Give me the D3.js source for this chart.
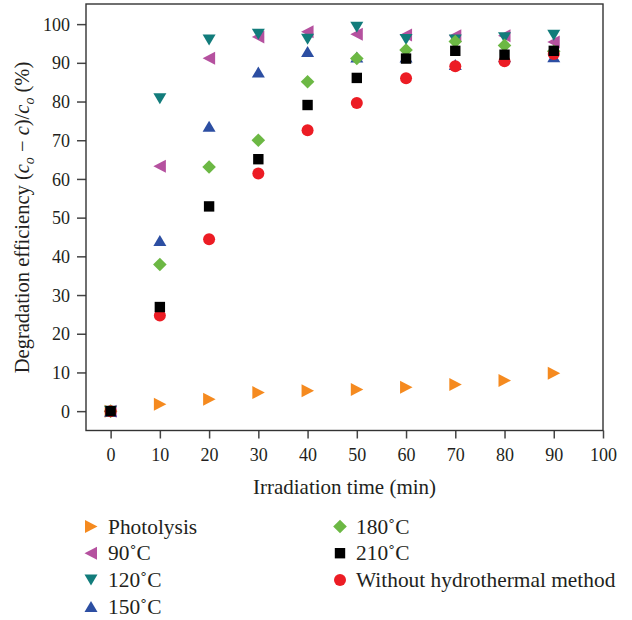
<!DOCTYPE html>
<html>
<head>
<meta charset="utf-8">
<script src="https://cdn.jsdelivr.net/npm/d3@7"></script>
<style>
  html, body { margin: 0; padding: 0; background: #fff; }
  svg { display: block; }
  text { font-family: "Liberation Serif", "Times New Roman", serif; fill: #231f20; }
</style>
</head>
<body>
<svg id="chart" width="632" height="620"></svg>
<script>
// ---- data ----
const times = [0, 10, 20, 30, 40, 50, 60, 70, 80, 90];
const photolysis = [0, 1.8, 3.1, 4.8, 5.3, 5.6, 6.2, 6.9, 7.9, 9.8];
const t90 = [0, 63.3, 91.2, 96.7, 98.0, 97.4, 97.2, 97.0, 97.0, 95.4];
const t120 = [0, 80.7, 95.9, 97.4, 96.1, 99.2, 96.0, 95.9, 96.5, 97.1];
const t150 = [0, 44.1, 73.6, 87.6, 92.9, 91.5, 91.5, 89.6, 91.6, 91.6];
const t180 = [0, 37.9, 63.1, 70.0, 85.1, 91.1, 93.3, 95.5, 94.5, 93.0];
const t210 = [0, 26.9, 52.9, 65.1, 79.1, 86.1, 91.1, 93.1, 92.1, 93.1];
const noHydro = [0, 24.7, 44.4, 61.4, 72.6, 79.6, 86.0, 89.1, 90.4, 92.3];

const xTicks = [0, 10, 20, 30, 40, 50, 60, 70, 80, 90, 100];
const yTicks = [0, 10, 20, 30, 40, 50, 60, 70, 80, 90, 100];

const seriesNames = ["Photolysis", "90˚C", "120˚C", "150˚C", "180˚C", "210˚C", "Without hydrothermal method"];
const seriesValues = [photolysis, t90, t120, t150, t180, t210, noHydro];
const seriesShapes = ["right", "left", "down", "up", "diamond", "square", "circle"];
const seriesColors = ["#f58a1f", "#b5519f", "#127c7b", "#2c4ea2", "#6cb844", "#000000", "#ec1c24"];
// drawing order (last on top)
const drawOrder = [0, 1, 2, 3, 4, 6, 5];

// ---- layout ----
const pLeft = 86, pRight = 603, pTop = 4, pBottom = 430.5;
const svg = d3.select("#chart");

const x = d3.scaleLinear().domain([-5, 100]).range([pLeft, pRight]);
const y = d3.scaleLinear().domain([-5, 105.2]).range([pBottom, pTop]);

function markerPath(shape) {
  const p = d3.path();
  switch (shape) {
    case "right": p.moveTo(-6, -6.5); p.lineTo(6.5, 0); p.lineTo(-6, 6.5); p.closePath(); break;
    case "left": p.moveTo(6, -6.5); p.lineTo(-6.5, 0); p.lineTo(6, 6.5); p.closePath(); break;
    case "down": p.moveTo(-6.5, -5.5); p.lineTo(6.5, -5.5); p.lineTo(0, 5.5); p.closePath(); break;
    case "up": p.moveTo(-6.5, 5.5); p.lineTo(6.5, 5.5); p.lineTo(0, -5.5); p.closePath(); break;
    case "diamond": p.moveTo(0, -6.8); p.lineTo(6.8, 0); p.lineTo(0, 6.8); p.lineTo(-6.8, 0); p.closePath(); break;
    case "square": p.rect(-5.2, -5.2, 10.4, 10.4); break;
    case "circle": p.arc(0, 0, 6, 0, 2 * Math.PI); p.closePath(); break;
  }
  return p.toString();
}

// ---- axes ----
const xAxis = svg.append("g")
  .attr("transform", `translate(0,${pBottom})`)
  .call(d3.axisBottom(x).tickValues(xTicks).tickSize(8).tickFormat(d3.format("d")));
xAxis.select(".domain").remove();
xAxis.selectAll(".tick line").attr("stroke", "#444").attr("stroke-width", 1.5);
xAxis.selectAll(".tick text").attr("y", 30).attr("dy", 0)
  .style("font-size", "18px").style("font-family", "Liberation Serif, serif").attr("fill", "#231f20");

const yAxis = svg.append("g")
  .attr("transform", `translate(${pLeft},0)`)
  .call(d3.axisLeft(y).tickValues(yTicks).tickSize(9).tickPadding(7).tickFormat(d3.format("d")));
yAxis.select(".domain").remove();
yAxis.selectAll(".tick line").attr("stroke", "#444").attr("stroke-width", 1.5);
yAxis.selectAll(".tick text").attr("dy", "0.34em")
  .style("font-size", "18px").style("font-family", "Liberation Serif, serif").attr("fill", "#231f20");

// frame
svg.append("rect")
  .attr("x", pLeft).attr("y", pTop)
  .attr("width", pRight - pLeft).attr("height", pBottom - pTop)
  .attr("fill", "none").attr("stroke", "#333").attr("stroke-width", 1.4);

// ---- markers ----
const plot = svg.append("g");
drawOrder.forEach(i => {
  plot.append("g").selectAll("path")
    .data(times.map((t, k) => ({ t: t, v: seriesValues[i][k] })))
    .join("path")
    .attr("d", markerPath(seriesShapes[i]))
    .attr("transform", d => `translate(${x(d.t)},${y(d.v)})`)
    .attr("fill", seriesColors[i]);
});

// ---- axis titles ----
svg.append("text")
  .attr("x", (pLeft + pRight) / 2).attr("y", 494)
  .attr("text-anchor", "middle")
  .style("font-size", "21px")
  .text("Irradiation time (min)");

const yt = svg.append("text")
  .attr("transform", "translate(29,217.5) rotate(-90)")
  .attr("text-anchor", "middle")
  .style("font-size", "20.5px");
yt.append("tspan").text("Degradation efficiency (");
yt.append("tspan").style("font-style", "italic").text("c");
yt.append("tspan").attr("dy", 5).style("font-size", "14px").style("font-style", "italic").text("o");
yt.append("tspan").attr("dy", -5).text(" − ");
yt.append("tspan").style("font-style", "italic").text("c");
yt.append("tspan").text(")/");
yt.append("tspan").style("font-style", "italic").text("c");
yt.append("tspan").attr("dy", 5).style("font-size", "14px").style("font-style", "italic").text("o");
yt.append("tspan").attr("dy", -5).text(" (%)");

// ---- legend ----
const legCols = [{ mx: 91, tx: 108 }, { mx: 340, tx: 356 }];
const legRowY = [526.5, 553.2, 580, 606.5];
const legend = svg.append("g");
seriesNames.forEach((name, i) => {
  const col = i < 4 ? legCols[0] : legCols[1];
  const row = i < 4 ? i : i - 4;
  const ly = legRowY[row];
  legend.append("path")
    .attr("d", markerPath(seriesShapes[i]))
    .attr("transform", `translate(${col.mx},${ly})`)
    .attr("fill", seriesColors[i]);
  legend.append("text")
    .attr("x", col.tx).attr("y", ly + 7)
    .style("font-size", "21.4px")
    .text(name);
});
</script>
</body>
</html>
